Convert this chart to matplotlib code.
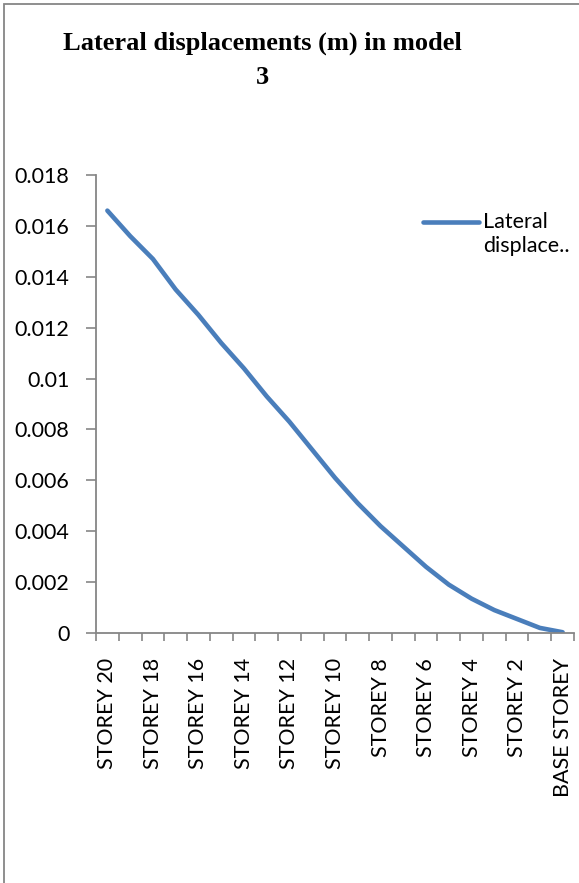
import matplotlib.pyplot as plt
import numpy as np
from matplotlib.lines import Line2D
from matplotlib.patches import Rectangle
from matplotlib.ticker import FixedLocator, FuncFormatter

# storeys from the top down to the base
storeys = ["STOREY %d" % n for n in range(20, 0, -1)] + ["BASE STOREY"]
displacement = [0.0166, 0.0156, 0.0147, 0.0135, 0.0125, 0.0114, 0.0104,
                0.0093, 0.0083, 0.0072, 0.0061, 0.0051, 0.0042, 0.0034,
                0.0026, 0.0019, 0.00135, 0.0009, 0.00055, 0.0002, 0.00003]
y_ticks = [0, 0.002, 0.004, 0.006, 0.008, 0.01, 0.012, 0.014, 0.016, 0.018]

W, H = 579, 883
blue = "#4a7ebb"
grey = "#868686"
tick_font = "Lato"
fs = 15.5

fig = plt.figure(figsize=(W / 100, H / 100), dpi=100)
ax = fig.add_axes([96 / W, 1 - 633 / H, (574 - 96) / W, (633 - 175) / H])

x = np.arange(len(storeys))
ax.plot(x, displacement, color=blue, lw=3.3, solid_capstyle="round",
        solid_joinstyle="round", label="Lateral displace..")

ax.set_xlim(-0.5, len(storeys) - 0.5)
ax.set_ylim(0, 0.018)

# x axis: labels on every second storey, tick marks between categories
ax.set_xticks(x[::2])
ax.set_xticklabels([storeys[i] for i in x[::2]], rotation=90,
                   fontsize=fs, family=tick_font)
ax.xaxis.set_minor_locator(FixedLocator(np.arange(-0.5, len(storeys), 1)))
ax.tick_params(axis="x", which="major", length=0, pad=18)
ax.tick_params(axis="x", which="minor", length=6, width=1.2, color=grey,
               direction="out")

ax.set_yticks(y_ticks)
ax.yaxis.set_major_formatter(FuncFormatter(lambda v, p: "%g" % v))
ax.tick_params(axis="y", length=7, width=1.2, color=grey, direction="out",
               pad=12)
for lab in ax.get_yticklabels():
    lab.set_fontsize(fs)
    lab.set_family(tick_font)

for side in ["top", "right"]:
    ax.spines[side].set_visible(False)
for side in ["left", "bottom"]:
    ax.spines[side].set_color(grey)
    ax.spines[side].set_linewidth(1.3)

# chart border
fig.add_artist(Rectangle((4 / W, -0.1), 1.2, 1.1 - 4 / H, transform=fig.transFigure,
                         fill=False, edgecolor=grey, lw=1.3))

title_kw = dict(ha="center", va="center", family="Liberation Serif",
                fontweight="bold", fontsize=19)
fig.text(262 / W, 1 - 43 / H, "Lateral displacements (m) in model", **title_kw)
fig.text(262 / W, 1 - 78 / H, "3", **title_kw)

# legend entry
fig.add_artist(Line2D([423 / W, 479 / W], [1 - 222 / H, 1 - 222 / H],
                      transform=fig.transFigure, color=blue, lw=3.3,
                      solid_capstyle="round"))
fig.text(483 / W, 1 - 222 / H, "Lateral", ha="left", va="center",
         family=tick_font, fontsize=fs)
fig.text(483 / W, 1 - 246 / H, "displace..", ha="left", va="center",
         family=tick_font, fontsize=fs)

fig.savefig("out.png", dpi=100)
